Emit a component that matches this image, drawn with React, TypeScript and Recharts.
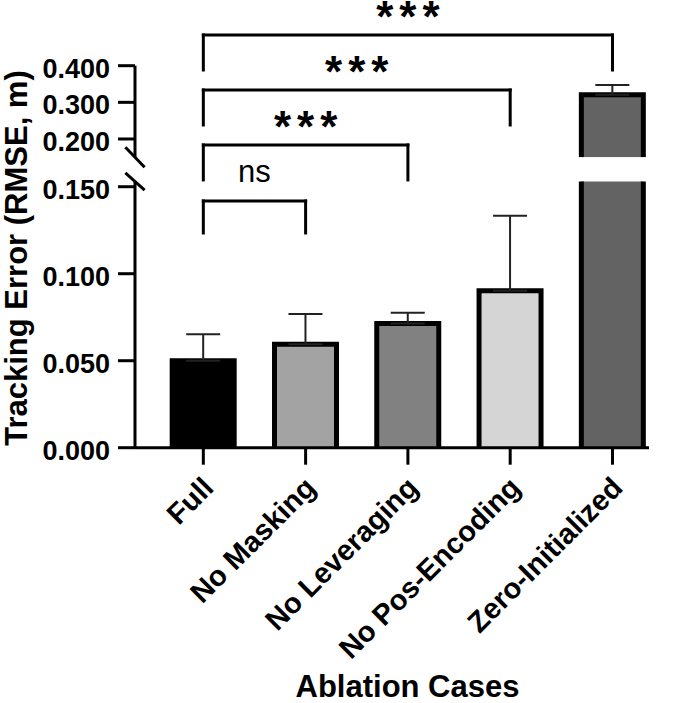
import React from 'react';
import { ComposedChart, Bar, XAxis, YAxis, ErrorBar, Cell, ReferenceLine } from 'recharts';

// ---------- data ----------
const categories = ['Full', 'No Masking', 'No Leveraging', 'No Pos-Encoding', 'Zero-Initialized'];
const meanValues = [0.05, 0.0595, 0.0714, 0.0902, 0.3205];
const sdValues = [0.0152, 0.0173, 0.0062, 0.0431, 0.0267];
const lowerTicks = [0, 0.05, 0.1, 0.15];
const upperTicks = [0.2, 0.3, 0.4];
const compareFrom = [0, 0, 0, 0];
const compareTo = [1, 2, 3, 4];
const compareLabels = ['ns', '***', '***', '***'];

// ---------- layout / style ----------
const FONT = '"Liberation Sans", Arial, Helvetica, sans-serif';
const barColors = ['#000000', '#a3a3a3', '#818181', '#d5d5d5', '#636363'];
const X_DOMAIN: [number, number] = [-0.668, 4.357];
const LOWER_DOMAIN: [number, number] = [0, 0.153];
const UPPER_DOMAIN: [number, number] = [0.15, 0.4];
// bracket levels: [chart, topLevel, legBottomLevel] in the host chart's y units
const bracketLayout: Array<{ chart: 'lower' | 'upper'; top: number; bottom: number }> = [
  { chart: 'lower', top: 0.1418, bottom: 0.1234 },
  { chart: 'lower', top: 0.174, bottom: 0.1539 },
  { chart: 'upper', top: 0.3337, bottom: 0.2382 },
  { chart: 'upper', top: 0.4838, bottom: 0.3883 },
];

const lowerData = categories.map((c, i) => ({
  idx: i,
  name: c,
  value: meanValues[i],
  err: meanValues[i] + sdValues[i] <= LOWER_DOMAIN[1] ? [0, sdValues[i]] : null,
}));
const upperData = categories.map((c, i) => ({
  idx: i,
  name: c,
  value: meanValues[i] > UPPER_DOMAIN[0] ? meanValues[i] : null,
  err: meanValues[i] > UPPER_DOMAIN[0] ? [0, sdValues[i]] : null,
}));

const OpenBar = (props: any) => {
  const { x, y, width, height, payload } = props;
  if (x == null || y == null || !width || !height || isNaN(y)) return null;
  const idx = payload && typeof payload.idx === 'number' ? payload.idx : props.index;
  const fill = barColors[idx] ?? props.fill;
  return (
    <g>
      <rect x={x} y={y} width={width} height={height} fill={fill} />
      <path
        d={`M${x},${y + height} L${x},${y} L${x + width},${y} L${x + width},${y + height}`}
        fill="none"
        stroke="#000"
        strokeWidth={5}
      />
    </g>
  );
};

const YTick = (props: any) => {
  const { x, y, payload } = props;
  return (
    <text x={x} y={y} dy="0.45em" textAnchor="end" fontFamily={FONT} fontSize={27} fontWeight={700} fill="#000">
      {Number(payload.value).toFixed(3)}
    </text>
  );
};

const XTick = (props: any) => {
  const { x, y, payload } = props;
  const ax = x - 3;
  return (
    <text
      x={ax}
      y={y}
      dy="0.72em"
      transform={`rotate(-45, ${ax}, ${y})`}
      textAnchor="end"
      fontFamily={FONT}
      fontSize={29}
      fontWeight={700}
      fill="#000"
    >
      {categories[payload.value]}
    </text>
  );
};

const BracketLabel = (props: any) => {
  const { viewBox, text } = props;
  if (!viewBox) return null;
  const cx = viewBox.x + (viewBox.width || 0) / 2;
  const isNs = text === 'ns';
  if (isNs) {
    return (
      <text x={cx} y={viewBox.y - 19} textAnchor="middle" fontFamily={FONT} fontSize={31} fill="#000">
        {text}
      </text>
    );
  }
  return (
    <text
      x={cx + 3}
      y={viewBox.y - 3}
      textAnchor="middle"
      fontFamily={FONT}
      fontSize={44}
      fontWeight={700}
      letterSpacing={6}
      fill="#000"
    >
      {text}
    </text>
  );
};

const YTitle = () => (
  <text
    transform="translate(27, 258) rotate(-90)"
    textAnchor="middle"
    fontFamily={FONT}
    fontSize={31}
    fontWeight={700}
    fill="#000"
  >
    Tracking Error (RMSE, m)
  </text>
);

const XTitle = () => (
  <text x={407.5} y={697} textAnchor="middle" fontFamily={FONT} fontSize={31} fontWeight={700} fill="#000">
    Ablation Cases
  </text>
);

const renderBrackets = (which: 'lower' | 'upper') =>
  bracketLayout.flatMap((b, k) => {
    if (b.chart !== which) return [];
    const a = compareFrom[k];
    const t = compareTo[k];
    const common = { stroke: '#000', strokeWidth: 3, ifOverflow: 'visible' as const, strokeLinecap: 'square' as const };
    return [
      <ReferenceLine key={`bl${k}`} segment={[{ x: a, y: b.bottom }, { x: a, y: b.top }]} {...common} />,
      <ReferenceLine key={`br${k}`} segment={[{ x: t, y: b.bottom }, { x: t, y: b.top }]} {...common} />,
      <ReferenceLine
        key={`bt${k}`}
        segment={[{ x: a, y: b.top }, { x: t, y: b.top }]}
        {...common}
        label={<BracketLabel text={compareLabels[k]} />}
      />,
    ];
  });

const axisStroke = { stroke: '#000', strokeWidth: 3 };

export default function App() {
  return (
    <div style={{ position: 'absolute', left: 0, top: 0, width: 685, height: 703, background: '#fff' }}>
      <div style={{ position: 'absolute', left: 0, top: 0 }}>
        <ComposedChart width={685} height={703} data={lowerData} margin={{ top: 181.5, right: 36, bottom: 0, left: 0 }}>
          <XAxis
            type="number"
            dataKey="idx"
            domain={X_DOMAIN}
            ticks={[0, 1, 2, 3, 4]}
            allowDataOverflow
            height={255.3}
            tickSize={17}
            tickMargin={10}
            axisLine={axisStroke}
            tickLine={axisStroke}
            tick={<XTick />}
            interval={0}
            label={<XTitle />}
          />
          <YAxis
            type="number"
            domain={LOWER_DOMAIN}
            ticks={lowerTicks}
            allowDataOverflow
            width={135}
            tickSize={17}
            tickMargin={8}
            axisLine={axisStroke}
            tickLine={axisStroke}
            tick={<YTick />}
            interval={0}
            label={<YTitle />}
          />
          <Bar dataKey="value" barSize={62} isAnimationActive={false} shape={(p: any) => <OpenBar {...p} />}>
            {lowerData.map((d, i) => (
              <Cell key={i} fill={barColors[i]} />
            ))}
            <ErrorBar dataKey="err" width={17} stroke="#222" strokeWidth={2} direction="y" isAnimationActive={false} />
          </Bar>
          <ReferenceLine
            segment={[
              { x: X_DOMAIN[0] - 0.094, y: LOWER_DOMAIN[1] + 0.0049 },
              { x: X_DOMAIN[0] + 0.094, y: LOWER_DOMAIN[1] - 0.0049 },
            ]}
            stroke="#000"
            strokeWidth={3}
            ifOverflow="visible"
          />
          {renderBrackets('lower')}
        </ComposedChart>
      </div>
      <div style={{ position: 'absolute', left: 0, top: 0 }}>
        <ComposedChart width={685} height={240} data={upperData} margin={{ top: 65.7, right: 36, bottom: 82.7, left: 0 }}>
          <XAxis type="number" dataKey="idx" domain={X_DOMAIN} ticks={[0, 1, 2, 3, 4]} allowDataOverflow hide />
          <YAxis
            type="number"
            domain={UPPER_DOMAIN}
            ticks={upperTicks}
            allowDataOverflow
            width={135}
            tickSize={17}
            tickMargin={8}
            axisLine={axisStroke}
            tickLine={axisStroke}
            tick={<YTick />}
            interval={0}
          />
          <Bar dataKey="value" barSize={62} isAnimationActive={false} shape={(p: any) => <OpenBar {...p} />}>
            {upperData.map((d, i) => (
              <Cell key={i} fill={barColors[i]} />
            ))}
            <ErrorBar dataKey="err" width={17} stroke="#222" strokeWidth={2} direction="y" isAnimationActive={false} />
          </Bar>
          <ReferenceLine
            segment={[
              { x: X_DOMAIN[0] - 0.094, y: UPPER_DOMAIN[0] + 0.0273 },
              { x: X_DOMAIN[0] + 0.094, y: UPPER_DOMAIN[0] - 0.0273 },
            ]}
            stroke="#000"
            strokeWidth={3}
            ifOverflow="visible"
          />
          {renderBrackets('upper')}
        </ComposedChart>
      </div>
    </div>
  );
}
